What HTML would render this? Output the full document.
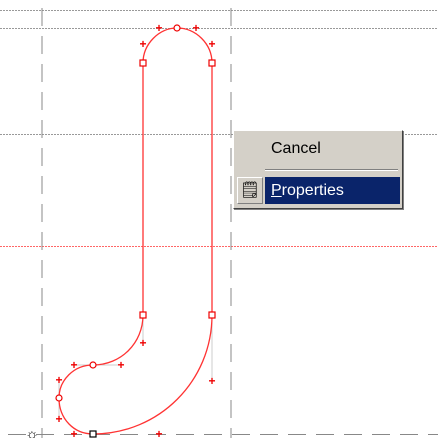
<!DOCTYPE html>
<html><head><meta charset="utf-8"><style>
body{margin:0;width:438px;height:438px;background:#fff;overflow:hidden;position:relative;font-family:"Liberation Sans",sans-serif}
svg{position:absolute;left:0;top:0}
#menu{position:absolute;left:233px;top:130px;width:168px;height:77px;background:#d4d0c8;border:1px solid;border-color:#fff #404040 #404040 #fff;box-shadow:1px 1px 0 #808080}
.it{position:absolute;font-size:16px}
</style></head><body>
<svg width="438" height="438">
<g stroke="#999" stroke-width="1" stroke-dasharray="2,1">
<line x1="0" y1="10.5" x2="438" y2="10.5"/><line x1="0" y1="28.5" x2="438" y2="28.5"/><line x1="0" y1="134.5" x2="438" y2="134.5"/>
</g>
<line x1="0" y1="246.5" x2="438" y2="246.5" stroke="#f66" stroke-dasharray="2,1"/>
<g stroke="#888" stroke-width="1" stroke-dasharray="18,10">
<line x1="42" y1="8" x2="42" y2="438"/><line x1="231" y1="8" x2="231" y2="438"/><line x1="8" y1="434.5" x2="438" y2="434.5"/>
</g>
<g stroke="#ccc">
<line x1="212" y1="315" x2="212" y2="381"/><line x1="74" y1="365" x2="121" y2="365"/><line x1="59" y1="380" x2="59" y2="419"/><line x1="143" y1="315" x2="143" y2="343"/>
</g>
<path fill="none" stroke="#f33" stroke-width="1.3" d="M212,315 C212,381 159,434 93,434 C74,434 59,419 59,398 C59,380 74,365 93,365 C121,365 143,343 143,315 L143,63 C143,44 159,28 177,28 C196,28 212,44 212,63 Z"/>
<g fill="#fff" stroke="#e00" stroke-width="1.2">
<rect x="140" y="60" width="6" height="6"/><rect x="209" y="60" width="6" height="6"/><rect x="140" y="312" width="6" height="6"/><rect x="209" y="312" width="6" height="6"/>
<circle cx="177" cy="28" r="3"/><circle cx="93" cy="365" r="3"/><circle cx="59" cy="398" r="3"/>
<rect x="90" y="431" width="6" height="6" stroke="#000"/>
</g>
<g fill="#e00" font-size="12" font-weight="bold" text-anchor="middle">
<text x="159" y="32">+</text><text x="196" y="32">+</text><text x="143" y="48">+</text><text x="212" y="48">+</text>
<text x="143" y="347">+</text><text x="212" y="385">+</text><text x="74" y="369">+</text><text x="121" y="369">+</text>
<text x="59" y="384">+</text><text x="59" y="423">+</text><text x="74" y="438">+</text><text x="159" y="438">+</text>
</g>
<text x="32" y="439" font-size="15" text-anchor="middle">☼</text>
</svg>
<div id="menu">
<div class="it" style="left:37px;top:9px">Cancel</div>
<div style="position:absolute;left:31px;top:38px;width:133px;height:1px;background:#808080;border-bottom:1px solid #fff"></div>
<div style="position:absolute;left:3px;top:46px;width:24px;height:25px;border:1px solid;border-color:#fff #808080 #808080 #fff;font-size:16px;text-align:center;line-height:25px">🗒</div>
<div style="position:absolute;left:31px;top:46px;width:135px;height:27px;background:#0a246a;color:#fff;font-size:16px;line-height:27px;padding-left:6px;box-sizing:border-box"><u>P</u>roperties</div>
</div>
</body></html>
